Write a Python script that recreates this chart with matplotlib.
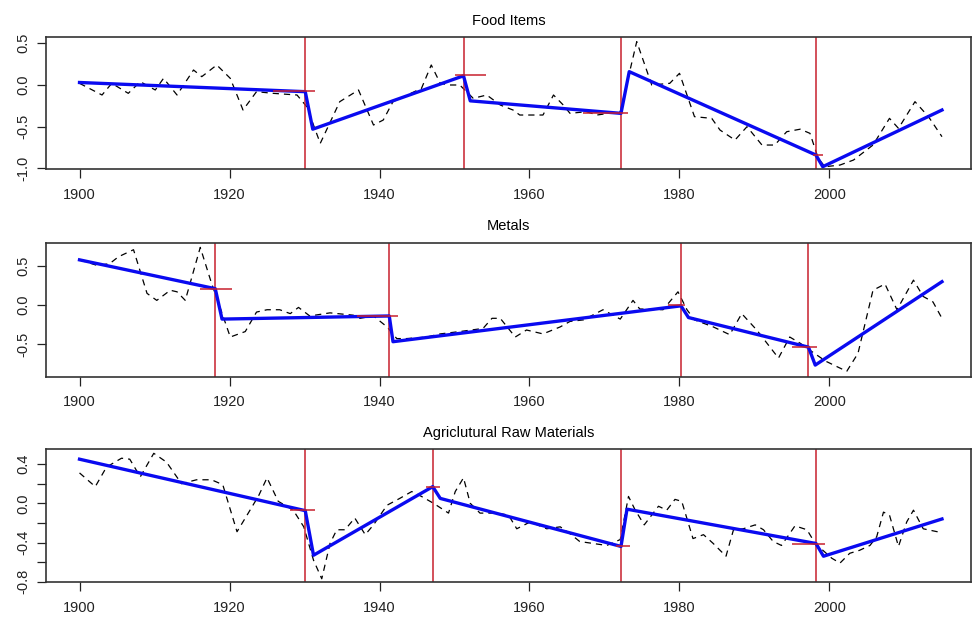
import matplotlib
matplotlib.use('Agg')
import matplotlib.pyplot as plt

matplotlib.rcParams['font.family'] = ['Liberation Sans', 'DejaVu Sans']

titles = ['Food Items', 'Metals', 'Agriclutural Raw Materials']

# dashed series (vertices only)
food_years = [1900, 1903, 1904.3, 1906.5, 1908.1, 1910.1, 1911.2, 1913, 1915.2, 1916.3,
              1918.3, 1920.1, 1921.8, 1923.6, 1925.8, 1929, 1930.3, 1932.1, 1934.7, 1937.2,
              1939.2, 1940.5, 1941.8, 1945.6, 1946.9, 1948.1, 1949.4, 1950.7, 1952.5, 1954.3,
              1956.1, 1957.8, 1958.7, 1961.8, 1963.2, 1964.5, 1965.4, 1967.6, 1969, 1972.1,
              1974.3, 1976.3, 1978.7, 1980, 1982, 1984.3, 1985.4, 1987.4, 1989, 1991,
              1992.7, 1994.3, 1996.1, 1997.4, 1998.5, 1999.4, 2001.4, 2003.2, 2005.8, 2008,
              2009.2, 2011.4, 2013.2, 2015]
food_vals = [0.02, -0.12, 0.02, -0.10, 0.04, -0.06, 0.08, -0.12, 0.18, 0.10,
             0.24, 0.08, -0.30, -0.08, -0.10, -0.12, -0.26, -0.70, -0.20, -0.06,
             -0.48, -0.42, -0.20, -0.04, 0.24, 0.02, 0.0, 0.0, -0.16, -0.12,
             -0.24, -0.30, -0.36, -0.36, -0.12, -0.24, -0.34, -0.32, -0.36, -0.32,
             0.52, 0.0, 0.02, 0.14, -0.38, -0.40, -0.54, -0.66, -0.50, -0.72,
             -0.72, -0.56, -0.53, -0.58, -0.88, -0.98, -0.96, -0.90, -0.72, -0.40,
             -0.52, -0.20, -0.38, -0.62]

metal_years = [1900, 1902.3, 1904, 1905.2, 1907.2, 1909, 1910.3, 1912.1, 1913, 1914.1,
               1916.1, 1917.6, 1918.7, 1920.1, 1922.1, 1923.6, 1925, 1926.7, 1928.1, 1929.2,
               1930.7, 1933.4, 1936.5, 1937.4, 1939.2, 1941, 1942.3, 1943.6, 1946.3, 1948.1,
               1950.7, 1953.8, 1955, 1956.1, 1958.1, 1959.6, 1961.8, 1964.1, 1965.4, 1967.2,
               1969.8, 1972.1, 1973.8, 1974.7, 1977.8, 1979.8, 1981, 1982, 1984.5, 1986.7,
               1988.3, 1990.3, 1993.2, 1994.7, 1996.1, 1997.4, 1999.5, 2001, 2002.3, 2003.8,
               2005.8, 2007.4, 2009, 2011.2, 2012.5, 2013.8, 2015]
metal_vals = [0.58, 0.51, 0.53, 0.62, 0.71, 0.15, 0.06, 0.19, 0.17, 0.06,
              0.74, 0.28, -0.02, -0.41, -0.34, -0.09, -0.06, -0.06, -0.11, -0.03,
              -0.14, -0.10, -0.13, -0.17, -0.14, -0.28, -0.43, -0.43, -0.41, -0.37,
              -0.34, -0.30, -0.17, -0.17, -0.41, -0.32, -0.37, -0.28, -0.21, -0.19,
              -0.06, -0.18, 0.06, -0.05, -0.06, 0.17, -0.06, -0.19, -0.28, -0.38,
              -0.11, -0.32, -0.68, -0.41, -0.49, -0.58, -0.72, -0.79, -0.85, -0.62,
              0.19, 0.27, -0.06, 0.32, 0.11, 0.04, -0.17]

agri_years = [1900, 1902.1, 1903.6, 1905.6, 1906.7, 1908.1, 1909.9, 1911.6, 1913.6, 1915.6,
              1917.6, 1919.1, 1921, 1922.5, 1923.9, 1925, 1926.5, 1928.5, 1929.9, 1931.2,
              1932.3, 1933.4, 1934.3, 1935.4, 1936.7, 1938.1, 1939.2, 1941, 1942.7, 1944.3,
              1945.6, 1947.2, 1949.2, 1950.1, 1951.2, 1952.1, 1953.4, 1955.6, 1957.2, 1958.3,
              1960.1, 1962.3, 1964.1, 1965.4, 1966.7, 1968.5, 1970.3, 1972.1, 1973.2, 1974.1,
              1975.3, 1977.2, 1978.3, 1979.4, 1980.3, 1981.8, 1983.2, 1984.5, 1986.2, 1987.2,
              1988.5, 1990.1, 1991.2, 1992.5, 1993.6, 1995.4, 1997, 1998.1, 2000.3, 2001.4,
              2002.7, 2004, 2005.4, 2006.3, 2007.2, 2008, 2009.2, 2010.3, 2011.2, 2012.5, 2015]
agri_vals = [0.31, 0.17, 0.37, 0.46, 0.45, 0.27, 0.51, 0.42, 0.20, 0.24,
             0.24, 0.19, -0.29, -0.10, 0.08, 0.26, 0.02, -0.07, -0.24, -0.58,
             -0.77, -0.41, -0.27, -0.27, -0.15, -0.32, -0.22, -0.02, 0.05, 0.12,
             0.07, 0.0, -0.10, 0.12, 0.26, 0.0, -0.10, -0.10, -0.12, -0.26,
             -0.19, -0.26, -0.24, -0.31, -0.39, -0.41, -0.43, -0.37, 0.07, -0.07,
             -0.22, -0.03, -0.07, 0.04, 0.02, -0.36, -0.32, -0.41, -0.54, -0.27,
             -0.26, -0.22, -0.27, -0.39, -0.43, -0.23, -0.27, -0.41, -0.56, -0.61,
             -0.51, -0.48, -0.43, -0.34, -0.09, -0.12, -0.44, -0.19, -0.07, -0.26, -0.30]

# fitted broken trend (blue)
food_fit_years = [1900, 1930.1, 1931.1, 1951.2, 1952.1, 1972.2, 1973.3, 1998.2, 1999.1, 2015]
food_fit_vals = [0.03, -0.08, -0.53, 0.11, -0.19, -0.34, 0.16, -0.84, -0.98, -0.30]
metal_fit_years = [1900, 1918.1, 1919, 1941.3, 1941.8, 1980.2, 1981.2, 1997.2, 1998.1, 2015]
metal_fit_vals = [0.58, 0.21, -0.18, -0.14, -0.47, -0.01, -0.16, -0.54, -0.77, 0.30]
agri_fit_years = [1900, 1930.1, 1931.2, 1947.1, 1948.1, 1972.2, 1973, 1998.2, 1999.2, 2015]
agri_fit_vals = [0.45, -0.075, -0.53, 0.17, 0.05, -0.44, -0.06, -0.41, -0.54, -0.16]

# break dates and their intervals (red)
food_breaks = [1930.1, 1951.3, 1972.2, 1998.2]
food_ci_lo = [1925.8, 1950.1, 1967.2, 1997.8]
food_ci_hi = [1931.4, 1954.2, 1973.2, 1999.1]
food_ci_lev = [-0.07, 0.12, -0.34, -0.84]
metal_breaks = [1918.1, 1941.2, 1980.2, 1997.2]
metal_ci_lo = [1916.0, 1937.0, 1978.5, 1995.0]
metal_ci_hi = [1920.3, 1942.5, 1980.8, 1998.3]
metal_ci_lev = [0.21, -0.14, 0.0, -0.54]
agri_breaks = [1930.1, 1947.1, 1972.2, 1998.2]
agri_ci_lo = [1928.0, 1946.2, 1971.6, 1995.0]
agri_ci_hi = [1931.4, 1948.0, 1973.4, 1999.4]
agri_ci_lev = [-0.07, 0.17, -0.44, -0.42]

xticks = [1900, 1920, 1940, 1960, 1980, 2000]
yticks = [[0.5, 0.0, -0.5, -1.0], [0.5, 0.0, -0.5], [0.4, 0.2, 0.0, -0.2, -0.4, -0.6, -0.8]]
ylabels = [['0.5', '0.0', '-0.5', '-1.0'], ['0.5', '0.0', '-0.5'],
           ['0.4', '', '0.0', '', '-0.4', '', '-0.8']]
ylims = [(-1.011, 0.572), (-0.919, 0.80), (-0.806, 0.554)]

series = [(food_years, food_vals), (metal_years, metal_vals), (agri_years, agri_vals)]
fits = [(food_fit_years, food_fit_vals), (metal_fit_years, metal_fit_vals), (agri_fit_years, agri_fit_vals)]
breaks = [food_breaks, metal_breaks, agri_breaks]
cis = [(food_ci_lo, food_ci_hi, food_ci_lev), (metal_ci_lo, metal_ci_hi, metal_ci_lev),
       (agri_ci_lo, agri_ci_hi, agri_ci_lev)]

red = '#c8202e'
blue = '#0a0af0'

fig = plt.figure(figsize=(9.72, 6.24), dpi=100)
# axes boxes in pixels: (top, bottom)
boxes = [(37.3, 169.3), (242.7, 376.7), (449.0, 582.3)]
W, H = 972.0, 624.0
for i in range(3):
    top, bot = boxes[i]
    ax = fig.add_axes([46 / W, 1 - bot / H, 925 / W, (bot - top) / H])
    yrs, vals = series[i]
    ax.plot(yrs, vals, color='black', linewidth=0.9, linestyle=(0, (5, 4)))
    for b in breaks[i]:
        ax.axvline(b, color=red, linewidth=1.1)
    fy, fv = fits[i]
    ax.plot(fy, fv, color=blue, linewidth=2.4)
    lo, hi, lev = cis[i]
    ax.hlines(lev, lo, hi, color=red, linewidth=1.1)
    ax.set_xlim(1895.53, 2018.87)
    ax.set_ylim(*ylims[i])
    ax.set_xticks(xticks)
    ax.set_yticks(yticks[i])
    ax.set_yticklabels(ylabels[i], rotation=90, va='center')
    ax.tick_params(direction='out', length=6.5, width=0.9, labelsize=10.5, colors='#222222')
    ax.tick_params(axis='x', pad=7)
    ax.tick_params(axis='y', pad=5)
    for s in ax.spines.values():
        s.set_linewidth(1.2)
        s.set_color('#333333')
    ax.set_title(titles[i], fontsize=10.5, pad=9)

plt.savefig('out.png', dpi=100)
